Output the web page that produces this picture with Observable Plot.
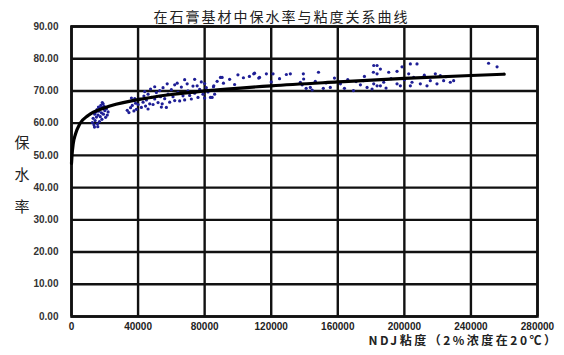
<!DOCTYPE html>
<html><head><meta charset="utf-8">
<script src="https://cdn.jsdelivr.net/npm/d3@7"></script>
<script src="https://cdn.jsdelivr.net/npm/@observablehq/plot@0.6"></script>
<style>
body{margin:0;background:#fff;}
svg{font-family:"Noto Sans CJK SC",Arial,sans-serif;}
</style></head><body><div id="c"></div>
<script>
const titleText = "在石膏基材中保水率与粘度关系曲线";
const yLabel = "保\n水\n率";
const xLabel = "NDJ粘度（2%浓度在20℃）";
const xTicks = [0, 40000, 80000, 120000, 160000, 200000, 240000, 280000];
const yTicks = [0, 10, 20, 30, 40, 50, 60, 70, 80, 90];

// fitted curve, points [viscosity, retention %]
const curvePts = [[0,47.5],[300,50],[1000,53.5],[2500,56.8],[5000,59.8],[10000,62.4],[20000,64.8],[40000,67.3],[60000,68.9],[80000,70],[120000,71.6],[160000,72.8],[200000,73.9],[240000,74.8],[260000,75.2]];

// measured points (x in thousands of mPa·s, y in %)
const dotsK = [
[12.5,60.2],[13,61.5],[13.5,59.5],[14,62.8],[14.2,60.8],[14.8,63.5],[15,61.9],[15.3,64.2],[15.6,59.8],[16,62.5],[16.2,65],[16.5,63.7],[16.8,60.5],[17,64.6],[17.3,62],[17.6,65.5],[18,63.2],[18.3,61.2],[18.6,64.8],[19,66],[19.2,62.8],[19.6,65.2],[20,63.9],[20.5,61.8],[21,64.5],[21.5,62.5],[22,63.5],[13.8,58.8],[15.8,58.9],[18.5,66.4],
[33.5,64],[34.5,63.3],[35.5,64.8],[36.5,65.5],[37.5,63.8],[38.5,66.2],[39,64.3],[40,65.8],[41,67.5],[42,64.9],[43,66.5],[43.5,68.4],[44.5,65.3],[45,67.2],[46,69],[47,66],[47.5,70.6],[48,68],[49,65.8],[50,67.5],[51,69.5],[52,66.4],[53,70.1],[53.5,68.2],[54.5,66],[55,71],[56,67.6],[57.5,72.2],[58,69],[59,66.5],[60,70.4],[61,68.2],[62,67],[63.5,72.4],[64,69.6],[65,66.9],[66,71.2],[67,68.5],[68,67.2],[69.5,72.2],[70,70],[71,68.6],[72,67.5],[73,71.5],[74,69.3],[75.5,71.6],[76,68],[77,70.5],[78,72.8],[79,69],[80,67.8],[81,71],[82,69.7],[83.5,68],[85.5,71.6],[84.5,70.2],[86,69],[87.5,73],[89.5,74.2],[44,69.8],[50,71.3],[38,67.6],[57,64.9],[62,71.9],[68,73.5],[46,64.4],[54,65],[36,67.8],[74,73.6],[80,72.3],
[85.3,71.3],[84.5,68],[90.5,74.2],[91.3,72.4],[95,73.6],[98,72],[103.3,74.1],[106.9,74.5],[110,75.5],[113,74.2],[117.1,75.3],[121.1,75.3],[125,73.8],[129.1,75.1],[131.5,75.3],[112.5,74],[109.5,75.3],[100,75],[120,72.8],
[137.5,72.7],[138.6,71.9],[139.3,75.3],[139.5,73.7],[141,70.8],[143.5,71.1],[144.6,70.3],[146.5,73],[148.4,75.8],[151.3,70.8],[153,72.5],[155.5,71.1],[158,74],[161.6,72.2],[164,70.8],[166,73.5],[169.4,70.1],[171,72.9],[173.6,71.9],[175.4,73.2],[177.6,71.1],[180.6,70.6],[181.4,75.8],[183.6,77.9],[183.6,71.6],[176,74.5],
[181.6,77.9],[185.6,76.8],[183.6,75.3],[190.6,75.8],[195.6,76.1],[198.6,77.5],[203.6,78.4],[207.6,78.4],[202.6,75.3],[205.6,74.2],[181.6,72.2],[187.6,72.7],[185.6,71.6],[192,73.8],[195.6,72.2],[197.6,71.6],[204.6,72.7],[209.6,72.2],[215.6,73.2],[218.6,75.3],[221.6,74.8],[219.6,72.2],[223.6,73.2],[227.6,72.7],[213.6,71.6],[203.6,71.6],[229.6,73.2],[212,74.9],[189,70.9],[200,73.5],[225,74.4],
[250.6,78.6],[255.7,77.5]
];
const dots = dotsK.map(([k, y]) => ({x: k * 1000, y}));
const curve = curvePts.map(([x, y]) => ({x, y}));

const chart = Plot.plot({
  width: 564, height: 355,
  marginTop: 26, marginBottom: 39, marginLeft: 71, marginRight: 27,
  style: {background: "#fff", color: "#222"},
  x: {domain: [0, 280000], label: null},
  y: {domain: [0, 90], label: null},
  marks: [
    Plot.ruleX(xTicks, {stroke: "#111", strokeWidth: 2.4}),
    Plot.ruleY(yTicks, {stroke: "#111", strokeWidth: 2.4}),
    Plot.frame({stroke: "#111", strokeWidth: 2.6}),
    Plot.axisX({ticks: xTicks, tickFormat: d => String(d), tickSize: 0, tickPadding: 6, fontSize: 10, fontWeight: "bold", fill: "#222", fontFamily: "Arial, sans-serif"}),
    Plot.axisY({ticks: yTicks, tickFormat: d3.format(".2f"), tickSize: 0, tickPadding: 13, fontSize: 10, fontWeight: "bold", fill: "#333", fontFamily: "Arial, sans-serif"}),
    Plot.dot(dots, {x: "x", y: "y", r: 1.6, fill: "#1e1e96", stroke: "none"}),
    Plot.line(curve, {x: "x", y: "y", curve: "monotone-x", stroke: "#000", strokeWidth: 3.2}),
    Plot.text([titleText], {frameAnchor: "top", dx: -23, dy: -14, fontSize: 14, fill: "#222"}),
    Plot.text([yLabel], {frameAnchor: "left", dx: -57, dy: -2, fontSize: 15, lineHeight: 2.15, fill: "#222"}),
    Plot.text([xLabel], {frameAnchor: "bottom-right", textAnchor: "end", dx: 21, dy: 28, fontSize: 12, fontWeight: "bold", fill: "#222"})
  ]
});
d3.select(chart).selectAll("text").filter(function(){ return this.textContent === titleText; }).style("letter-spacing", "2px");
d3.select(chart).selectAll("text").filter(function(){ return this.textContent === xLabel; }).style("letter-spacing", "2.5px");
document.getElementById("c").appendChild(chart);
</script></body></html>
